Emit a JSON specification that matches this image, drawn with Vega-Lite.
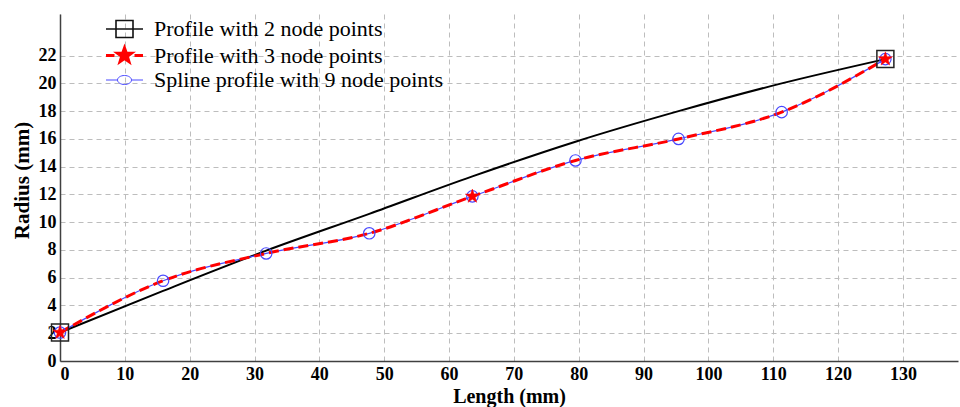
{
  "$schema": "https://vega.github.io/schema/vega-lite/v6.json",
  "width": 898,
  "height": 347,
  "autosize": {"type": "none"},
  "padding": {"left": 60, "top": 14, "right": 2, "bottom": 46},
  "background": "white",
  "config": {
    "view": {"stroke": null},
    "axis": {
      "labelFont": "Liberation Serif",
      "labelFontWeight": "bold",
      "labelFontSize": 18,
      "labelColor": "black",
      "titleFont": "Liberation Serif",
      "titleFontWeight": "bold",
      "titleFontSize": 20,
      "titleColor": "black",
      "domainColor": "#404040",
      "domainWidth": 1.5,
      "gridColor": "#bdbdbd",
      "gridDash": [5, 4],
      "gridWidth": 1,
      "ticks": false,
      "labelPadding": 4
    },
    "legend": {
      "labelFont": "Liberation Serif",
      "labelFontSize": 22,
      "labelColor": "black",
      "labelLimit": 0,
      "padding": 0
    }
  },
  "datasets": {
    "profiles": [
      {"series": "Profile with 2 node points", "x": 0, "y": 2.05, "m": 1},
      {"series": "Profile with 2 node points", "x": 15.9, "y": 5.05, "m": 0},
      {"series": "Profile with 2 node points", "x": 31.8, "y": 7.95, "m": 0},
      {"series": "Profile with 2 node points", "x": 47.7, "y": 10.6, "m": 0},
      {"series": "Profile with 2 node points", "x": 63.6, "y": 13.3, "m": 0},
      {"series": "Profile with 2 node points", "x": 79.5, "y": 15.8, "m": 0},
      {"series": "Profile with 2 node points", "x": 95.4, "y": 18.0, "m": 0},
      {"series": "Profile with 2 node points", "x": 111.3, "y": 20.0, "m": 0},
      {"series": "Profile with 2 node points", "x": 127.3, "y": 21.75, "m": 1},
      {"series": "Profile with 3 node points", "x": 0, "y": 2.05, "m": 1},
      {"series": "Profile with 3 node points", "x": 15.9, "y": 5.78, "m": 0},
      {"series": "Profile with 3 node points", "x": 31.8, "y": 7.75, "m": 0},
      {"series": "Profile with 3 node points", "x": 47.7, "y": 9.2, "m": 0},
      {"series": "Profile with 3 node points", "x": 63.6, "y": 11.86, "m": 1},
      {"series": "Profile with 3 node points", "x": 79.5, "y": 14.45, "m": 0},
      {"series": "Profile with 3 node points", "x": 95.4, "y": 16.0, "m": 0},
      {"series": "Profile with 3 node points", "x": 111.3, "y": 17.93, "m": 0},
      {"series": "Profile with 3 node points", "x": 127.3, "y": 21.75, "m": 1},
      {"series": "Spline profile with 9 node points", "x": 0, "y": 2.05, "m": 1},
      {"series": "Spline profile with 9 node points", "x": 15.9, "y": 5.78, "m": 1},
      {"series": "Spline profile with 9 node points", "x": 31.8, "y": 7.75, "m": 1},
      {"series": "Spline profile with 9 node points", "x": 47.7, "y": 9.2, "m": 1},
      {"series": "Spline profile with 9 node points", "x": 63.6, "y": 11.86, "m": 1},
      {"series": "Spline profile with 9 node points", "x": 79.5, "y": 14.45, "m": 1},
      {"series": "Spline profile with 9 node points", "x": 95.4, "y": 16.0, "m": 1},
      {"series": "Spline profile with 9 node points", "x": 111.3, "y": 17.93, "m": 1},
      {"series": "Spline profile with 9 node points", "x": 127.3, "y": 21.75, "m": 1}
    ]
  },
  "data": {"name": "profiles"},
  "encoding": {
    "x": {
      "field": "x", "type": "quantitative",
      "scale": {"domain": [0, 138.5], "nice": false, "zero": false},
      "axis": {"title": "Length (mm)", "values": [0,10,20,30,40,50,60,70,80,90,100,110,120,130], "format": "d", "titlePadding": 3}
    },
    "y": {
      "field": "y", "type": "quantitative",
      "scale": {"domain": [0, 25], "nice": false},
      "axis": {"title": "Radius (mm)", "values": [0,2,4,6,8,10,12,14,16,18,20,22], "format": "d", "titlePadding": 6, "titleY": 166, "titleFontSize": 21}
    }
  },
  "layer": [
    {
      "transform": [{"filter": "datum.series == 'Profile with 2 node points'"}],
      "mark": {"type": "line", "color": "black", "strokeWidth": 2, "interpolate": "monotone"}
    },
    {
      "transform": [{"filter": "datum.series == 'Spline profile with 9 node points'"}],
      "mark": {"type": "line", "color": "#4848ff", "strokeWidth": 1.2, "interpolate": "monotone"}
    },
    {
      "transform": [{"filter": "datum.series == 'Profile with 3 node points'"}],
      "mark": {"type": "line", "color": "#ff0000", "strokeWidth": 3, "strokeDash": [10, 5], "interpolate": "monotone"}
    },
    {
      "transform": [{"filter": "datum.series == 'Profile with 2 node points' && datum.m == 1"}],
      "mark": {"type": "point", "shape": "square", "size": 289, "filled": false, "stroke": "#222222", "strokeWidth": 1.5, "opacity": 1}
    },
    {
      "transform": [{"filter": "datum.series == 'Spline profile with 9 node points' && datum.m == 1"}],
      "mark": {"type": "point", "shape": "circle", "size": 130, "filled": false, "stroke": "#4848ff", "strokeWidth": 1.2, "opacity": 1}
    },
    {
      "transform": [{"filter": "datum.series == 'Profile with 3 node points' && datum.m == 1"}],
      "mark": {"type": "point", "shape": "M0,-0.75L0.176,-0.243L0.713,-0.232L0.285,0.093L0.441,0.607L0,0.3L-0.441,0.607L-0.285,0.093L-0.713,-0.232L-0.176,-0.243Z", "size": 380, "filled": true, "fill": "#ff0000", "stroke": "#ff0000", "strokeWidth": 0.5, "opacity": 1}
    },
    {
      "transform": [{"filter": "false"}],
      "mark": {"type": "point", "filled": true, "size": 400, "opacity": 1},
      "encoding": {
        "shape": {
          "field": "series", "type": "nominal",
          "scale": {
            "domain": ["Profile with 2 node points", "Profile with 3 node points", "Spline profile with 9 node points"],
            "range": [
              "M-1.85,0H1.85M-0.85,-0.85H0.85V0.85H-0.85Z",
              "M-1.85,0H-1.0M1.0,0H1.85M0,-0.75L0.176,-0.243L0.713,-0.232L0.285,0.093L0.441,0.607L0,0.3L-0.441,0.607L-0.285,0.093L-0.713,-0.232L-0.176,-0.243Z",
              "M-1.85,0H-0.7M0.7,0H1.85M-0.7,0A0.7,0.45 0 1,0 0.7,0A0.7,0.45 0 1,0 -0.7,0"
            ]
          },
          "legend": {
            "title": null,
            "orient": "none",
            "legendX": 53,
            "legendY": 4,
            "labelOffset": 18,
            "rowPadding": 1,
            "symbolSize": 400
          }
        },
        "stroke": {
          "field": "series", "type": "nominal",
          "scale": {
            "domain": ["Profile with 2 node points", "Profile with 3 node points", "Spline profile with 9 node points"],
            "range": ["#111111", "#ff0000", "#4848ff"]
          }
        },
        "fill": {
          "field": "series", "type": "nominal",
          "scale": {
            "domain": ["Profile with 2 node points", "Profile with 3 node points", "Spline profile with 9 node points"],
            "range": ["transparent", "#ff0000", "transparent"]
          }
        },
        "strokeWidth": {
          "field": "series", "type": "nominal",
          "scale": {
            "type": "ordinal",
            "domain": ["Profile with 2 node points", "Profile with 3 node points", "Spline profile with 9 node points"],
            "range": [1.6, 3, 1]
          }
        }
      }
    }
  ]
}
